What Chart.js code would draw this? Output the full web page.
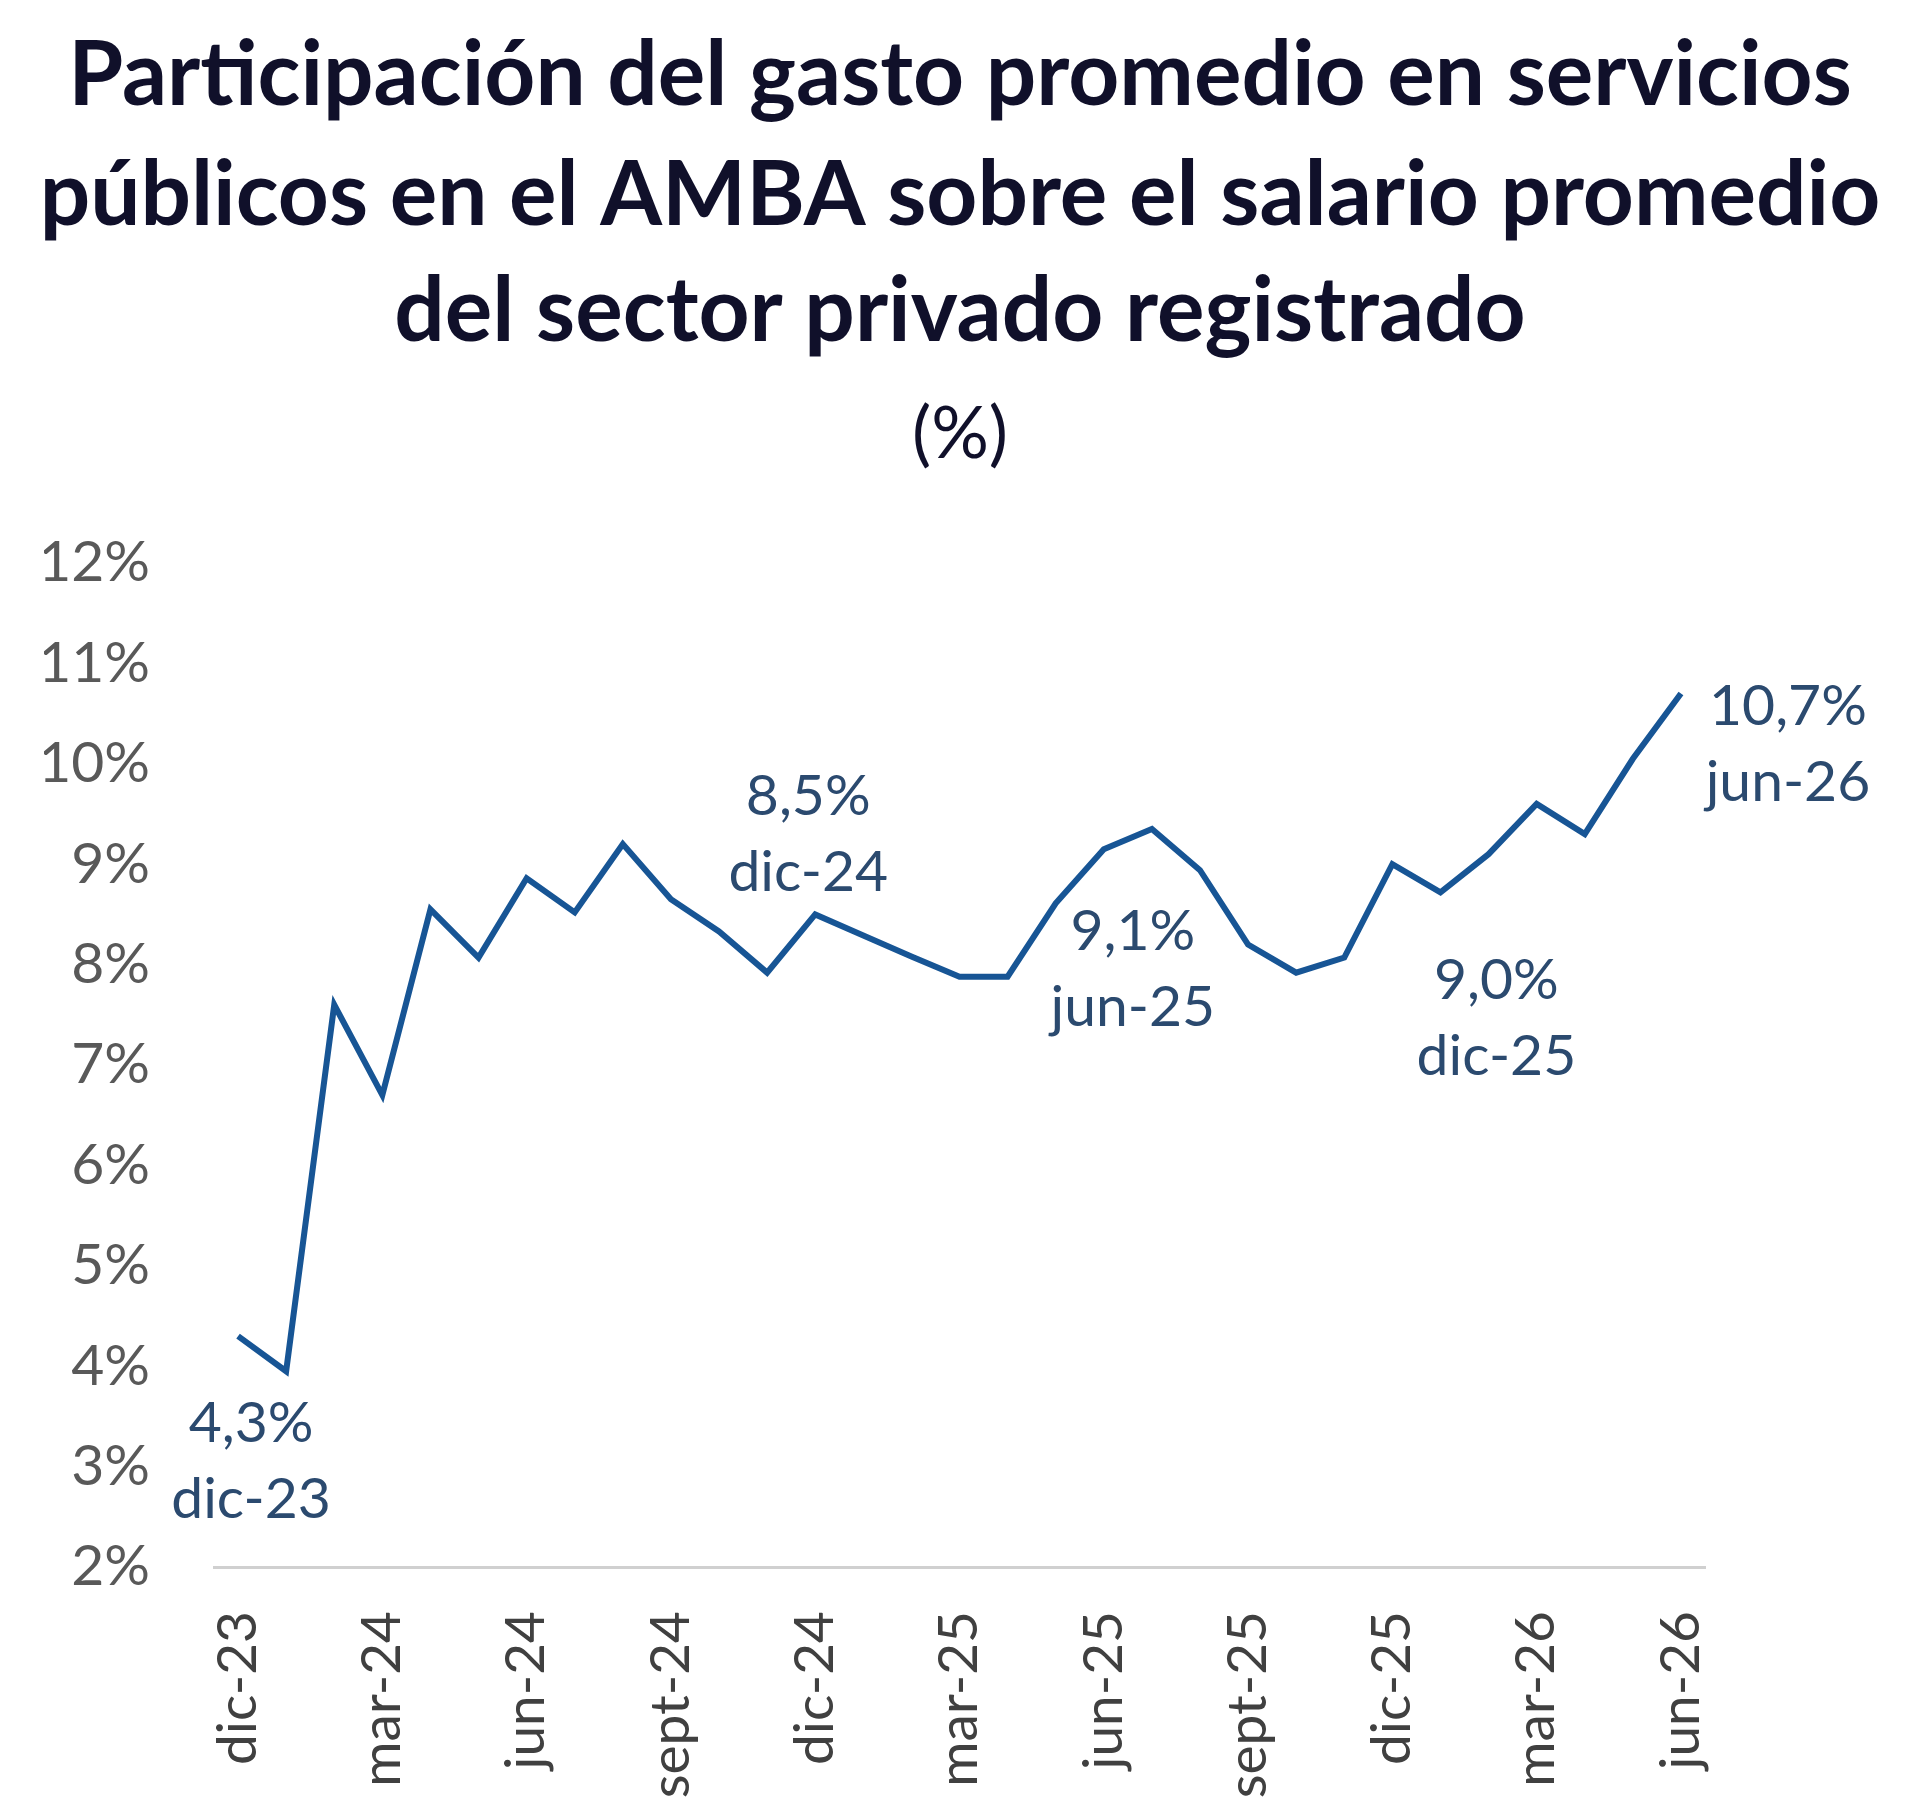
<!DOCTYPE html>
<html>
<head>
<meta charset="utf-8">
<script src="https://cdn.jsdelivr.net/npm/chart.js@4.4.1/dist/chart.umd.min.js"></script>
<style>
  html, body { margin: 0; padding: 0; background: #ffffff; }
  #wrap { width: 1920px; height: 1817px; }
</style>
</head>
<body>
<div id="wrap"><canvas id="gastoChart" width="1920" height="1817"></canvas></div>
<script>
// months, dic-23 .. jun-26
const months = ['dic-23','ene-24','feb-24','mar-24','abr-24','may-24','jun-24','jul-24','ago-24','sept-24','oct-24','nov-24',
                'dic-24','ene-25','feb-25','mar-25','abr-25','may-25','jun-25','jul-25','ago-25','sept-25','oct-25','nov-25',
                'dic-25','ene-26','feb-26','mar-26','abr-26','may-26','jun-26']

// share of public services spending over avg private wage (%)
const share = [4.3, 3.95, 7.6, 6.7, 8.55, 8.07, 8.86, 8.52, 9.2, 8.65, 8.33, 7.92,
               8.5, 8.29, 8.08, 7.88, 7.88, 8.61, 9.15, 9.35, 8.94, 8.2, 7.92, 8.07,
               9.0, 8.72, 9.1, 9.6, 9.3, 10.05, 10.7]

// y axis ticks
const yMin = 2
const yMax = 12
const yStep = 1

// callouts
const calloutIdx = [0, 12, 18, 24, 30]
const calloutValue = ['4,3%', '8,5%', '9,1%', '9,0%', '10,7%']
const calloutDate = ['dic-23', 'dic-24', 'jun-25', 'dic-25', 'jun-26']

const titleLines = ['Participación del gasto promedio en servicios',
                    'públicos en el AMBA sobre el salario promedio',
                    'del sector privado registrado']
const subTitle = '(%)'


document.addEventListener("DOMContentLoaded", function () {

    // offsets of the callout text relative to the point (px)
    const calloutPos = [[13, 88], [-7, -118], [29, 82], [104, 116], [107, 13]]

    // title centred on the whole canvas (the built-in one follows the asymmetric padding)
    const titlePlugin = {
        id: 'pageTitle',
        afterDraw(chart) {
            const ctx = chart.ctx
            const cx = chart.width / 2
            ctx.save()
            ctx.fillStyle = '#10102a'
            ctx.textAlign = 'center'
            ctx.textBaseline = 'middle'
            ctx.font = 'bold 89px Lato'
            const ys = [76, 196, 312]
            titleLines.forEach((t, i) => ctx.fillText(t, cx, ys[i]))
            ctx.font = '72px Lato'
            ctx.fillText(subTitle, cx, 435)
            ctx.restore()
        }
    }

    const calloutPlugin = {
        id: 'callouts',
        afterDatasetsDraw(chart) {
            const ctx = chart.ctx
            const meta = chart.getDatasetMeta(0)
            ctx.save()
            ctx.font = '57px Lato'
            ctx.fillStyle = '#2b4a6f'
            ctx.textAlign = 'center'
            ctx.textBaseline = 'middle'
            calloutIdx.forEach((idx, k) => {
                const pt = meta.data[idx]
                const x = pt.x + calloutPos[k][0]
                const y = pt.y + calloutPos[k][1]
                ctx.fillText(calloutValue[k], x, y)
                ctx.fillText(calloutDate[k], x, y + 76)
            })
            ctx.restore()
        }
    }

    const dataLine = {
        labels: months,
        datasets: [{
            label: 'Participación',
            data: share,
            borderColor: '#175595',
            borderWidth: 6,
            pointRadius: 0,
            tension: 0,
            fill: false
        }]
    }

    const configLine = {
        type: 'line',
        data: dataLine,
        options: {
            responsive: false,
            animation: false,
            layout: {
                padding: { left: 44, right: 215, top: 563, bottom: 10 }
            },
            plugins: {
                legend: { display: false },
                tooltip: { enabled: false },
                title: { display: false }
            },
            scales: {
                x: {
                    offset: true,
                    grid: { display: false, drawTicks: false },
                    border: { display: true, color: '#d0d0d0', width: 3 },
                    afterFit: function (scale) { scale.height = 240 },
                    ticks: {
                        autoSkip: false,
                        maxRotation: 90,
                        minRotation: 90,
                        padding: 44,
                        color: '#404040',
                        font: { family: 'Lato', size: 55 },
                        callback: function (val, i) {
                            return i % 3 === 0 ? months[i] : ''
                        }
                    }
                },
                y: {
                    min: yMin,
                    max: yMax,
                    grid: { display: false, drawTicks: false },
                    border: { display: false },
                    afterFit: function (scale) { scale.width = 170 },
                    ticks: {
                        stepSize: yStep,
                        padding: 64,
                        color: '#595959',
                        font: { family: 'Lato', size: 57 },
                        callback: function (v) { return v + '%' }
                    }
                }
            }
        },
        plugins: [calloutPlugin, titlePlugin]
    }

    const gastoChart = new Chart(
        document.getElementById('gastoChart'),
        configLine
    )
})
</script>
</body>
</html>
